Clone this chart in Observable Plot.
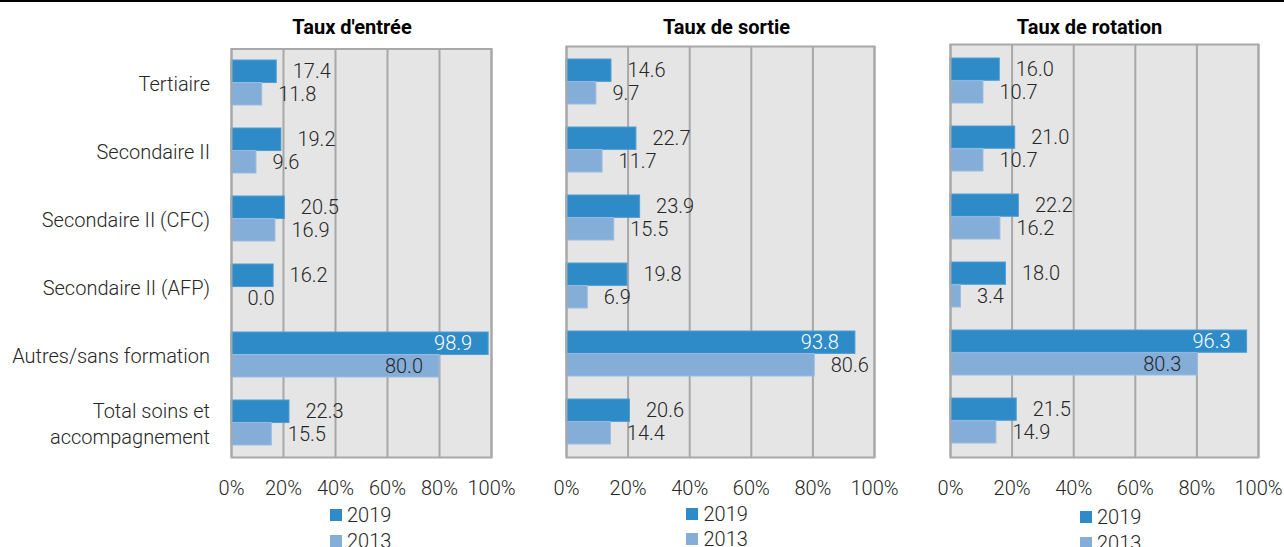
<!DOCTYPE html>
<html>
<head>
<meta charset="utf-8">
<script src="https://cdn.jsdelivr.net/npm/d3@7"></script>
<script src="https://cdn.jsdelivr.net/npm/@observablehq/plot@0.6"></script>
<style>
  html, body { margin: 0; padding: 0; background: #fff; }
  #chart { position: relative; width: 1284px; height: 547px; overflow: hidden; background: #fff; font-family: Roboto, "Noto Sans", sans-serif; }
  #topline { position: absolute; left: 0; top: 0; width: 1284px; height: 2px; background: #000; }
  .panel { position: absolute; top: 0; }
  .legend-item { position: absolute; display: flex; align-items: center; font-size: 20px; font-weight: 300; color: #262626; line-height: 1; white-space: nowrap; }
  .legend-item .sw { width: 12px; height: 12px; margin-right: 5.5px; }
</style>
</head>
<body>
<div id="chart"><div id="topline"></div></div>
<script>
// ---- data ----
const categories = ["Tertiaire", "Secondaire II", "Secondaire II (CFC)", "Secondaire II (AFP)", "Autres/sans formation", "Total soins et accompagnement"];
const categoryLabels = ["Tertiaire", "Secondaire II", "Secondaire II (CFC)", "Secondaire II (AFP)", "Autres/sans formation", "Total soins et\naccompagnement"];
const years = ["2019", "2013"];
const panelTitles = ["Taux d'entrée", "Taux de sortie", "Taux de rotation"];
const entree2019 = [17.4, 19.2, 20.5, 16.2, 98.9, 22.3];
const entree2013 = [11.8, 9.6, 16.9, 0.0, 80.0, 15.5];
const sortie2019 = [14.6, 22.7, 23.9, 19.8, 93.8, 20.6];
const sortie2013 = [9.7, 11.7, 15.5, 6.9, 80.6, 14.4];
const rotation2019 = [16.0, 21.0, 22.2, 18.0, 96.3, 21.5];
const rotation2013 = [10.7, 10.7, 16.2, 3.4, 80.3, 14.9];
const xTicks = [0, 20, 40, 60, 80, 100];

// ---- style / layout config ----
const colors = {"2019": "#2E8BC8", "2013": "#84ADD8"};
const strokes = {"2019": "#4F9DD2", "2013": "#98BCE0"};
// labels drawn inside the bar end: [panelIndex, category index, year, text colour]
const insideLabels = [
  [0, 4, "2019", "#ffffff"], [0, 4, "2013", "#262626"],
  [1, 4, "2019", "#ffffff"],
  [2, 4, "2019", "#ffffff"], [2, 4, "2013", "#262626"]
];
const panels = [
  {title: panelTitles[0], v: {"2019": entree2019, "2013": entree2013}, left: 0, width: 520, frameL: 231, frameR: 491, top: 48.5, titleDx: -9.5, showY: true, legend: [329.5, 515]},
  {title: panelTitles[1], v: {"2019": sortie2019, "2013": sortie2013}, left: 520, width: 380, frameL: 566, frameR: 874, top: 46, titleDx: 6, showY: false, legend: [686, 513.5]},
  {title: panelTitles[2], v: {"2019": rotation2019, "2013": rotation2013}, left: 900, width: 384, frameL: 950, frameR: 1258, top: 44, titleDx: -15, showY: false, legend: [1079.5, 517]}
];
const bottom = 457;
const svgH = 500;
const padInner = 0.34;

const chart = document.getElementById("chart");

panels.forEach((p, pi) => {
  const range = bottom - p.top;
  const step = range / 6;
  const bw = step * (1 - padInner);
  const half = bw / 2;
  const rows = {};
  years.forEach(yr => {
    rows[yr] = categories.map((c, i) => {
      const inside = insideLabels.find(d => d[0] === pi && d[1] === i && d[2] === yr);
      return {cat: c, year: yr, value: p.v[yr][i], inside: !!inside, labelColor: inside ? inside[3] : "#262626"};
    });
  });

  const marks = [
    Plot.frame({fill: "#E5E5E5", stroke: null}),
    Plot.gridX(xTicks, {stroke: "#A8A8A8", strokeOpacity: 1, strokeWidth: 2}),
    Plot.barX(rows["2019"], {x1: 0, x2: "value", y: "cat", fill: colors["2019"], stroke: strokes["2019"], strokeWidth: 1, insetBottom: half}),
    Plot.barX(rows["2013"], {x1: 0, x2: "value", y: "cat", fill: colors["2013"], stroke: strokes["2013"], strokeWidth: 1, insetTop: half}),
    Plot.frame({stroke: "#A8A8A8", strokeWidth: 2}),
  ];
  years.forEach(yr => {
    const dy = yr === "2019" ? -bw / 4 : bw / 4;
    marks.push(Plot.text(rows[yr].filter(d => !d.inside), {x: "value", y: "cat", text: d => d.value.toFixed(1), dx: 16, dy, textAnchor: "start", fill: "#262626", fontSize: 20, fontWeight: 300}));
    marks.push(Plot.text(rows[yr].filter(d => d.inside), {x: "value", y: "cat", text: d => d.value.toFixed(1), dx: -16.5, dy, textAnchor: "end", fill: "labelColor", fontSize: 20, fontWeight: 300}));
  });
  marks.push(Plot.axisX(xTicks, {tickSize: 0, tickPadding: 23, tickFormat: d => d + "%", label: null, fontSize: 20, fontWeight: 300, fill: "#262626"}));
  if (p.showY) {
    marks.push(Plot.axisY({tickSize: 0, tickPadding: 21.5, tickFormat: d => categoryLabels[categories.indexOf(d)], label: null, fontSize: 20, fontWeight: 300, lineHeight: 1.3, fill: "#262626"}));
  }
  marks.push(Plot.text([p.title], {frameAnchor: "top", dy: 27.5 - p.top, dx: p.titleDx, lineAnchor: "middle", fontSize: 20, fontWeight: "bold", fill: "#000"}));

  const plot = Plot.plot({
    width: p.width,
    height: svgH,
    marginLeft: p.frameL - p.left,
    marginRight: p.left + p.width - p.frameR,
    marginTop: p.top,
    marginBottom: svgH - bottom,
    x: {domain: [0, 100], axis: null, label: null},
    y: {domain: categories, paddingInner: padInner, paddingOuter: padInner / 2, axis: null, label: null},
    style: {fontFamily: "Roboto, 'Noto Sans', sans-serif", fontSize: "20px", background: "transparent", overflow: "visible", color: "#262626"},
    marks
  });
  plot.classList.add("panel");
  plot.style.position = "absolute";
  plot.style.left = p.left + "px";
  plot.style.top = "0px";
  chart.appendChild(plot);

  // legend
  years.forEach((yr, k) => {
    const item = document.createElement("div");
    item.className = "legend-item";
    item.style.left = p.legend[0] + "px";
    item.style.top = (p.legend[1] + k * 25.5 - 11) + "px";
    item.style.height = "22px";
    const sw = document.createElement("div");
    sw.className = "sw";
    sw.style.background = colors[yr];
    const tx = document.createElement("span");
    tx.textContent = yr;
    item.appendChild(sw);
    item.appendChild(tx);
    chart.appendChild(item);
  });
});
</script>
</body>
</html>
